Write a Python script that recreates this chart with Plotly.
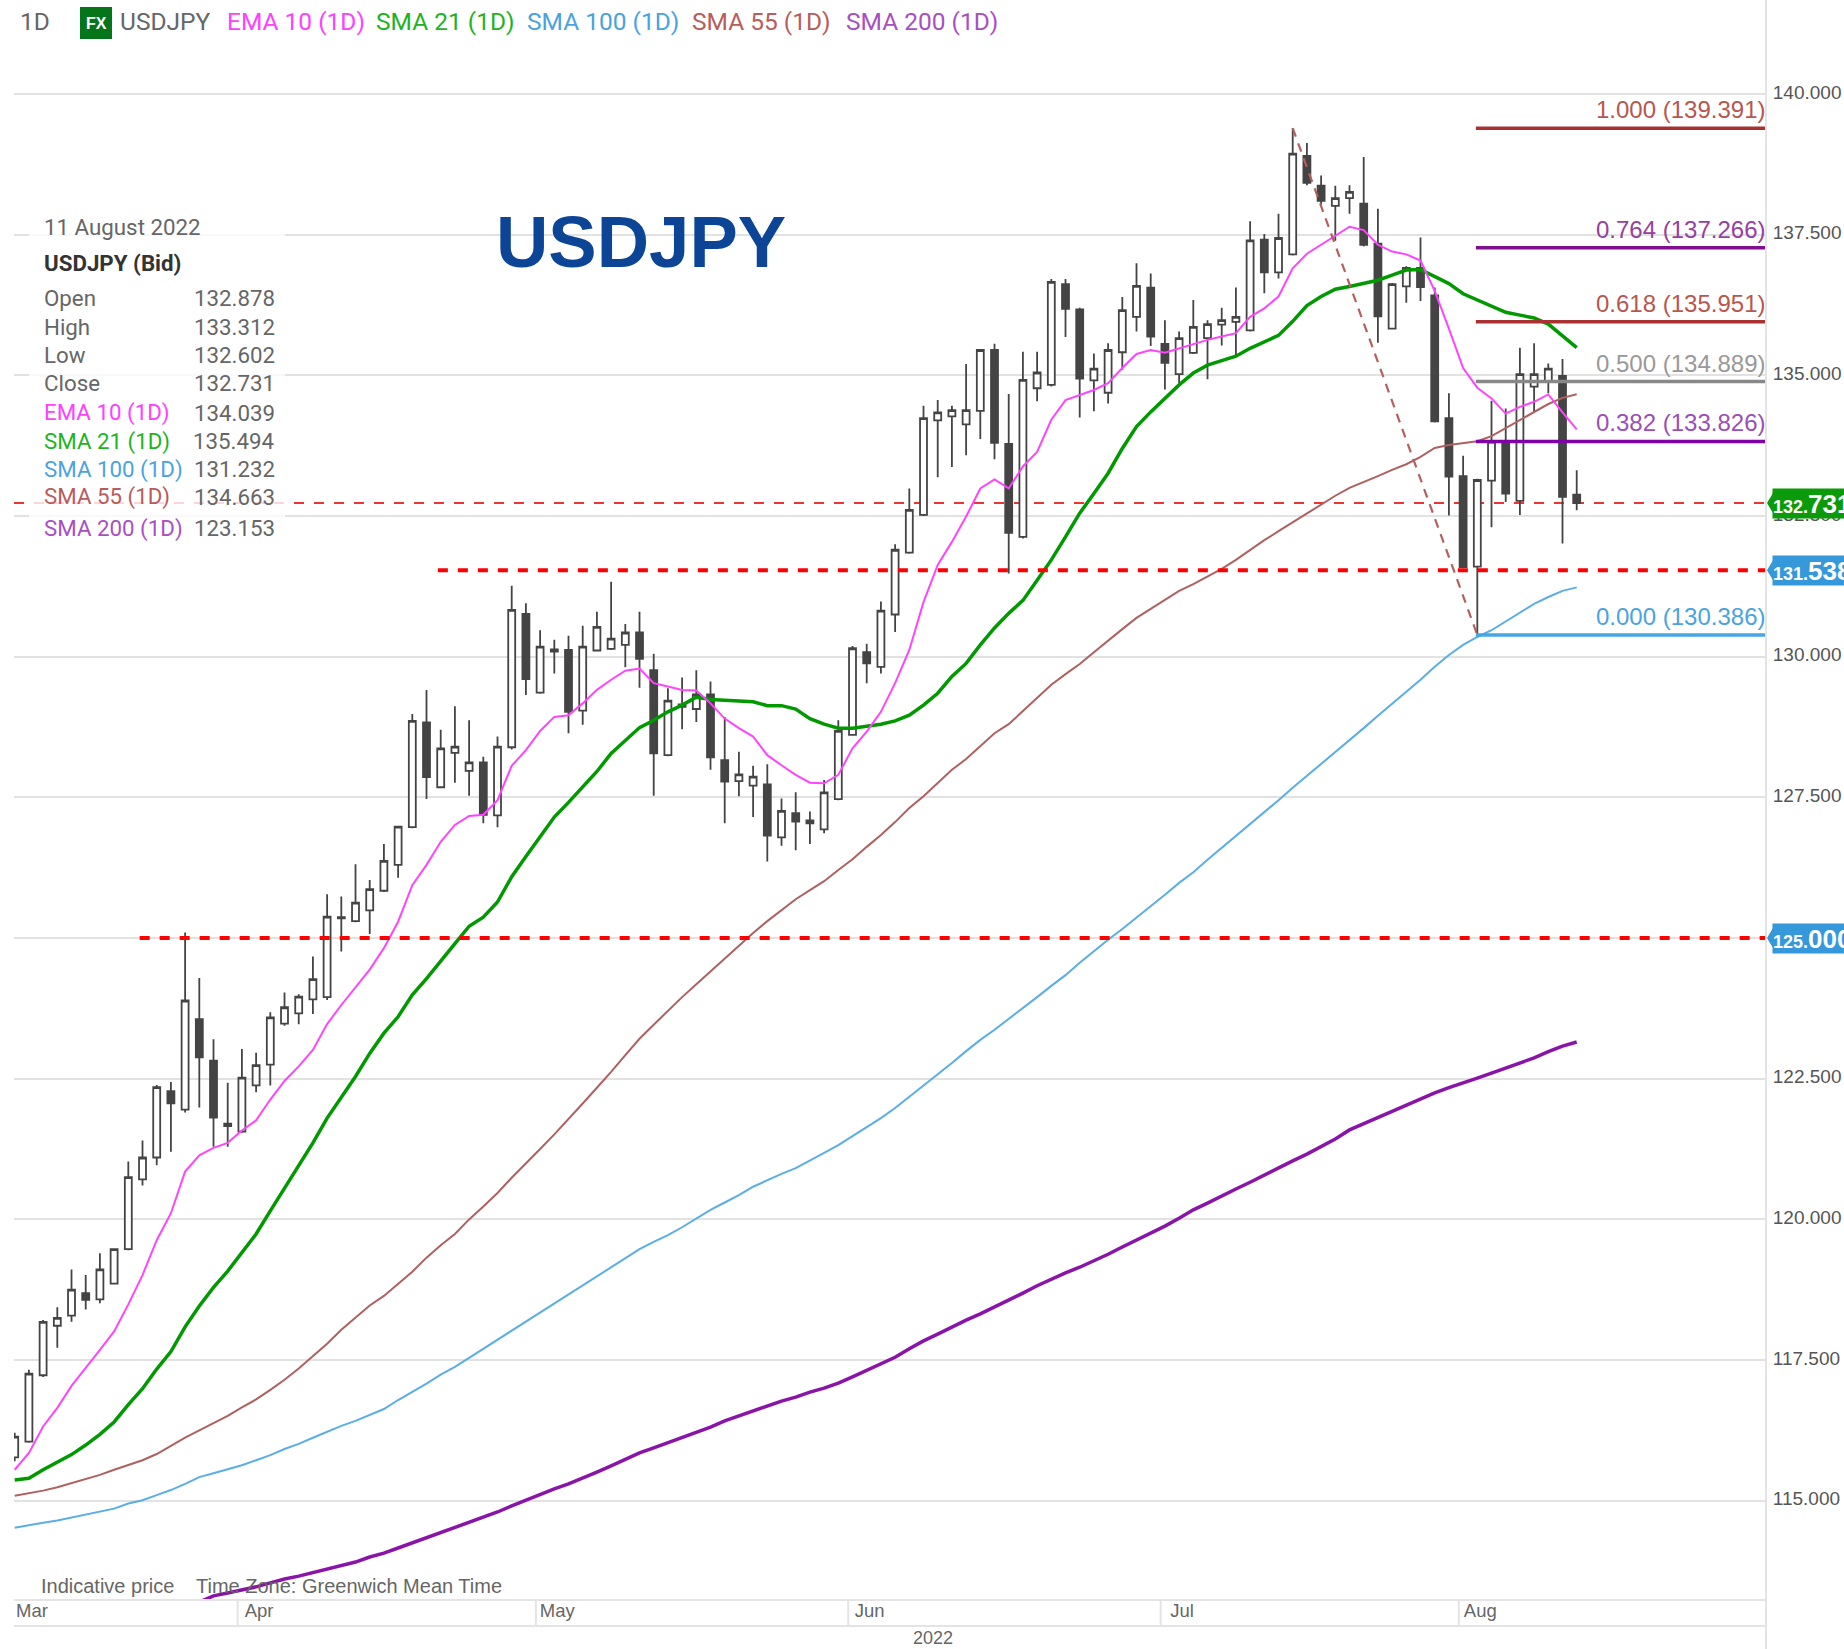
import pandas as pd
import plotly.graph_objects as go

dates = [d.strftime("%Y-%m-%d") for d in pd.bdate_range("2022-03-10", "2022-08-11")]

opens = [115.77,116.05,117.23,118.11,118.29,118.69,118.58,118.86,119.47,120.71,121.10,122.28,121.95,123.56,122.82,121.70,121.56,122.38,122.75,123.48,123.66,123.91,123.95,125.37,125.30,125.49,125.84,126.30,126.97,128.83,127.68,128.29,127.97,128.12,127.18,128.39,130.76,129.36,130.09,130.12,129.04,130.11,130.14,130.21,130.43,129.76,128.25,129.15,129.07,129.33,128.16,127.79,127.71,127.73,126.79,127.22,127.09,126.93,127.47,128.61,130.08,129.82,130.75,131.85,132.52,134.20,134.27,134.13,134.37,135.45,133.78,132.13,134.77,134.83,136.62,136.17,134.91,134.69,135.41,136.04,136.56,135.56,135.02,135.40,135.66,135.90,135.95,135.80,137.41,136.83,137.15,138.90,138.37,138.01,138.15,138.05,137.34,135.83,136.58,136.91,136.42,134.24,133.21,131.60,133.13,133.82,132.77,134.80,134.90,134.99,132.878]
highs = [116.21,117.33,118.21,118.44,119.11,119.01,119.40,119.47,121.03,121.40,122.39,122.44,125.10,124.29,123.20,122.43,123.03,122.96,123.68,124.03,124.00,124.67,125.78,125.74,126.31,126.03,126.67,126.98,128.98,129.41,128.70,129.12,128.87,128.22,128.58,131.26,130.95,130.47,130.30,130.37,130.55,130.80,131.33,130.58,130.80,130.05,129.44,129.63,129.76,129.56,128.93,128.31,128.06,128.09,127.48,127.59,127.25,127.81,128.87,130.19,130.23,130.98,132.00,132.99,134.46,134.56,134.46,135.20,135.47,135.56,134.67,135.42,135.42,136.71,136.71,136.20,135.39,135.57,136.39,136.99,136.81,135.98,135.78,136.34,135.98,136.20,136.56,137.74,137.51,137.87,139.39,139.13,138.55,138.37,138.38,138.88,137.96,136.64,136.94,137.45,136.56,134.68,133.57,133.16,134.55,134.41,135.49,135.57,135.21,135.29,133.312]
lows = [115.70,116.03,117.20,117.72,118.18,118.40,118.51,118.85,119.45,120.60,120.96,121.20,121.90,121.99,121.29,121.29,121.54,122.26,122.38,123.44,123.47,123.65,123.90,124.76,125.28,125.07,125.82,126.07,126.95,127.47,127.66,127.76,127.53,127.04,126.97,128.35,129.32,129.34,129.70,128.64,128.79,130.09,130.12,129.81,129.45,127.53,128.23,128.71,128.84,127.99,127.04,127.52,127.15,126.36,126.64,126.56,126.67,126.86,127.45,128.60,129.53,129.70,130.44,131.83,132.50,133.19,133.37,133.58,133.87,133.51,131.48,132.10,134.54,134.80,135.68,134.25,134.36,134.50,135.10,135.78,135.52,134.75,134.86,135.38,134.93,135.53,135.36,135.78,136.46,136.72,137.13,138.38,138.03,137.39,137.87,137.29,135.58,135.82,136.29,136.32,134.16,132.51,131.57,130.39,132.30,132.75,132.52,134.35,134.68,132.01,132.602]
closes = [116.14,117.26,118.18,118.25,118.75,118.57,119.11,119.47,120.75,121.10,122.35,122.06,123.89,122.88,121.81,121.66,122.52,122.74,123.59,123.77,123.96,124.27,125.38,125.35,125.63,125.87,126.37,126.98,128.86,127.86,128.37,128.40,128.12,127.19,128.40,130.83,129.60,130.18,130.13,129.02,130.18,130.53,130.32,130.43,129.96,128.28,129.22,129.11,129.33,128.21,127.78,127.91,127.87,126.82,127.26,127.07,127.04,127.59,128.68,130.15,129.88,130.82,131.90,132.61,134.24,134.34,134.38,134.38,135.45,133.80,132.20,134.92,135.05,136.66,136.18,134.94,135.12,135.45,136.16,136.59,135.69,135.22,135.66,135.86,135.91,135.98,136.04,137.40,136.83,137.44,138.94,138.42,138.10,138.15,138.26,137.32,136.05,136.62,136.91,136.57,134.18,133.20,131.59,133.14,133.82,132.90,135.02,135.02,135.12,132.84,132.731]

ema_10 = [115.55,115.85,116.32,116.65,117.04,117.35,117.68,118.01,118.49,119.01,119.63,120.11,120.85,121.14,121.27,121.36,121.58,121.76,122.13,122.46,122.72,123.01,123.47,123.81,124.12,124.44,124.82,125.29,125.94,126.30,126.71,127.01,127.17,127.19,127.45,128.06,128.34,128.68,128.93,128.96,129.17,129.41,129.59,129.75,129.79,129.53,129.47,129.41,129.40,129.17,128.90,128.73,128.58,128.25,128.07,127.90,127.76,127.75,127.90,128.37,128.67,129.02,129.53,130.12,130.97,131.63,132.04,132.49,132.99,133.15,132.99,133.38,133.64,134.21,134.56,134.65,134.74,134.86,135.13,135.38,135.45,135.40,135.48,135.56,135.63,135.69,135.75,136.04,136.19,136.40,136.90,137.16,137.32,137.48,137.64,137.58,137.32,137.20,137.15,137.04,136.50,135.83,135.13,134.78,134.59,134.32,134.44,134.53,134.66,134.34,134.039]
sma_21 = [115.37,115.40,115.55,115.68,115.82,115.99,116.18,116.40,116.71,116.99,117.34,117.65,118.09,118.46,118.79,119.08,119.41,119.74,120.15,120.56,120.96,121.36,121.80,122.18,122.54,122.95,123.31,123.60,123.99,124.28,124.58,124.90,125.21,125.37,125.64,126.09,126.45,126.80,127.15,127.41,127.69,127.96,128.28,128.52,128.74,128.87,129.02,129.14,129.28,129.24,129.23,129.22,129.20,129.13,129.13,129.07,128.90,128.80,128.73,128.73,128.76,128.80,128.86,128.96,129.14,129.35,129.65,129.88,130.21,130.51,130.77,131.00,131.36,131.72,132.13,132.55,132.90,133.26,133.70,134.09,134.35,134.59,134.83,135.04,135.18,135.26,135.34,135.48,135.60,135.71,135.96,136.24,136.40,136.53,136.58,136.63,136.69,136.78,136.87,136.88,136.75,136.63,136.45,136.34,136.24,136.12,136.07,136.02,135.91,135.70,135.494]
sma_55 = [115.09,115.13,115.18,115.24,115.31,115.38,115.46,115.55,115.63,115.72,115.83,115.98,116.12,116.25,116.38,116.51,116.66,116.80,116.97,117.15,117.35,117.57,117.79,118.04,118.25,118.47,118.64,118.86,119.07,119.32,119.54,119.74,120.00,120.23,120.47,120.74,120.99,121.25,121.51,121.78,122.06,122.34,122.62,122.92,123.21,123.46,123.71,123.95,124.18,124.41,124.64,124.87,125.09,125.30,125.50,125.69,125.85,126.01,126.21,126.40,126.62,126.83,127.06,127.31,127.52,127.76,127.99,128.18,128.41,128.64,128.80,129.03,129.27,129.50,129.69,129.87,130.08,130.29,130.49,130.69,130.85,131.01,131.17,131.29,131.42,131.56,131.72,131.90,132.07,132.23,132.39,132.55,132.71,132.86,133.00,133.10,133.21,133.32,133.42,133.55,133.71,133.76,133.80,133.83,133.92,134.06,134.21,134.35,134.49,134.60,134.663]
sma_100 = [114.52,114.57,114.61,114.65,114.70,114.75,114.80,114.86,114.95,115.01,115.10,115.19,115.30,115.42,115.49,115.56,115.63,115.72,115.81,115.92,116.01,116.12,116.23,116.33,116.42,116.53,116.63,116.79,116.93,117.08,117.24,117.38,117.54,117.70,117.86,118.02,118.19,118.34,118.50,118.66,118.82,118.98,119.14,119.30,119.47,119.60,119.72,119.86,120.02,120.17,120.30,120.43,120.58,120.70,120.81,120.91,121.04,121.18,121.32,121.48,121.64,121.80,121.98,122.18,122.37,122.57,122.78,122.99,123.19,123.37,123.56,123.76,123.95,124.15,124.34,124.56,124.77,124.97,125.16,125.36,125.57,125.77,125.98,126.17,126.39,126.60,126.81,127.03,127.24,127.45,127.67,127.88,128.09,128.31,128.52,128.73,128.95,129.16,129.37,129.59,129.82,130.03,130.21,130.35,130.47,130.63,130.79,130.94,131.06,131.17,131.232]
sma_200 = [None]*13 + [113.20,113.31,113.36,113.41,113.47,113.54,113.61,113.66,113.72,113.79,113.84,113.91,114.00,114.07,114.16,114.25,114.34,114.43,114.52,114.62,114.71,114.80,114.91,115.01,115.12,115.21,115.30,115.40,115.51,115.62,115.74,115.85,115.94,116.03,116.12,116.22,116.31,116.42,116.51,116.60,116.68,116.77,116.84,116.93,117.00,117.09,117.20,117.32,117.43,117.55,117.70,117.84,117.96,118.09,118.21,118.32,118.44,118.57,118.69,118.82,118.94,119.05,119.15,119.26,119.38,119.51,119.63,119.76,119.88,120.02,120.17,120.29,120.42,120.54,120.66,120.79,120.91,121.04,121.16,121.29,121.43,121.59,121.70,121.82,121.93,122.03,122.14,122.25,122.34,122.42,122.51,122.60,122.69,122.78,122.87,122.98,123.08,123.153]

fib_ratios = ["1.000", "0.764", "0.618", "0.500", "0.382", "0.000"]
fib_levels = [139.391, 137.266, 135.951, 134.889, 133.826, 130.386]
fib_line_colors = ["#a83232", "#7f0f8f", "#a83232", "#888888", "#8000a8", "#45a5e5"]
fib_text_colors = ["#b8564f", "#96409f", "#b8564f", "#999999", "#9a4fb8", "#4aa3df"]
fib_start_date = "2022-08-02"
fib_swing_dates = ["2022-07-14", "2022-08-02"]
fib_swing_prices = [139.391, 130.386]

last_close = 132.731
support_level = 131.538
resistance_level = 125.000
support_start_bar = 29.8
resistance_start_bar = 8.8

month_labels = ["Mar", "Apr", "May", "Jun", "Jul", "Aug"]
month_label_dates = ["2022-03-11", "2022-04-04", "2022-05-03", "2022-06-02", "2022-07-04", "2022-08-02"]
month_start_dates = ["2022-04-01", "2022-05-02", "2022-06-01", "2022-07-01", "2022-08-01"]
price_ticks = [115, 117.5, 120, 122.5, 125, 127.5, 130, 132.5, 135, 137.5, 140]

panel_rows = [
    ("Open", "132.878", "#666666"), ("High", "133.312", "#666666"),
    ("Low", "132.602", "#666666"), ("Close", "132.731", "#666666"),
    ("EMA 10 (1D)", "134.039", "#ff40ff"), ("SMA 21 (1D)", "135.494", "#1fb31f"),
    ("SMA 100 (1D)", "131.232", "#4aa3df"), ("SMA 55 (1D)", "134.663", "#b85c5c"),
    ("SMA 200 (1D)", "123.153", "#a84fc4"),
]
legend_items = [("1D", 18, "#666666"), ("USDJPY", 118, "#666666"), ("EMA 10 (1D)", 225, "#ff40ff"),
                ("SMA 21 (1D)", 374, "#1fb31f"), ("SMA 100 (1D)", 525, "#4aa3df"),
                ("SMA 55 (1D)", 690, "#b85c5c"), ("SMA 200 (1D)", 844, "#a84fc4")]

W, H = 1844, 1649
L, R, T, B = 14, 78, 0, 49
PW, PH = W - L - R, H - T - B
X_RANGE = [-0.05, 123.33]
Y_RANGE = [113.236, 141.67]
SANS = "Liberation Sans"
UI = "Roboto"


def px(x):
    return (x - L) / PW


def py(y):
    return 1 - (y - T) / PH


fig = go.Figure()
fig.add_trace(go.Candlestick(
    x=dates, open=opens, high=highs, low=lows, close=closes, name="USDJPY", whiskerwidth=0,
    increasing=dict(line=dict(color="#444444", width=1.8), fillcolor="#ffffff"),
    decreasing=dict(line=dict(color="#444444", width=1.8), fillcolor="#444444"),
))
for name, vals, color, width in [
    ("SMA 200 (1D)", sma_200, "#8a14a8", 3.5), ("SMA 100 (1D)", sma_100, "#5aaee5", 2),
    ("SMA 55 (1D)", sma_55, "#b06060", 2), ("SMA 21 (1D)", sma_21, "#009900", 3.5),
    ("EMA 10 (1D)", ema_10, "#ff44ff", 2),
]:
    fig.add_trace(go.Scatter(x=dates, y=vals, mode="lines", name=name,
                             line=dict(color=color, width=width)))
fig.add_trace(go.Scatter(x=fib_swing_dates, y=fib_swing_prices, mode="lines", name="Fibonacci swing",
                         line=dict(color="#b56060", width=2.2, dash="9px,7px")))

shapes = [dict(type="line", xref="x domain", yref="y", x0=0, x1=1, y0=last_close, y1=last_close,
               layer="below", line=dict(color="#ee3333", width=1.8, dash="10px,10px"))]
start_idx = dates.index(fib_start_date) - 0.1
for lvl, col in zip(fib_levels, fib_line_colors):
    shapes.append(dict(type="line", xref="x", yref="y", x0=start_idx, x1=X_RANGE[1], y0=lvl, y1=lvl,
                       line=dict(color=col, width=3.5)))
for lvl, start in [(support_level, support_start_bar), (resistance_level, resistance_start_bar)]:
    shapes.append(dict(type="line", xref="x", yref="y", x0=start, x1=X_RANGE[1], y0=lvl, y1=lvl,
                       line=dict(color="#ff0000", width=4, dash="10px,10px")))
# info panel veil
shapes.append(dict(type="rect", xref="paper", yref="paper", x0=px(29), x1=px(285), y0=py(540), y1=py(205),
                   fillcolor="rgba(255,255,255,0.8)", line=dict(width=0)))
# axis furniture
frame = "#e4e4e4"
shapes += [
    dict(type="line", xref="paper", yref="paper", x0=1, x1=1, y0=py(H), y1=1, line=dict(color=frame, width=2)),
    dict(type="line", xref="paper", yref="paper", x0=0, x1=1, y0=0, y1=0, line=dict(color=frame, width=2)),
    dict(type="line", xref="paper", yref="paper", x0=0, x1=1, y0=py(1626), y1=py(1626), line=dict(color=frame, width=2)),
]
for d in month_start_dates:
    i = dates.index(d) - 0.3
    shapes.append(dict(type="line", xref="x", yref="paper", x0=i, x1=i, y0=py(1626), y1=0,
                       line=dict(color=frame, width=2)))
# price tag pointers
for lvl, col in [(last_close, "#0a9a0a"), (support_level, "#3498db"), (resistance_level, "#3498db")]:
    shapes.append(dict(type="path", xref="paper", yref="y", xsizemode="pixel", ysizemode="pixel",
                       xanchor=1, yanchor=lvl, path="M 1 0 L 7 -10 L 7 10 Z", fillcolor=col, line=dict(width=0)))
# FX icon
shapes.append(dict(type="rect", xref="paper", yref="paper", x0=px(80), x1=px(112), y0=py(39), y1=py(7),
                   fillcolor="#05751c", line=dict(width=0)))

ann = []


def text(s, x, y, size, color, anchor="left", family=UI, bold=False):
    ann.append(dict(text=f"<b>{s}</b>" if bold else s, xref="paper", yref="paper", x=px(x), y=py(y),
                    xanchor=anchor, yanchor="middle", showarrow=False,
                    font=dict(family=family, size=size, color=color)))


for s, x, c in legend_items:
    text(s, x, 21, 24.5, c)
text("FX", 96, 23, 16, "#ffffff", anchor="center", family=SANS, bold=True)
text("USDJPY", 494, 241, 72.5, "#0d4596", family=SANS, bold=True)
text("11 August 2022", 42, 227, 22.3, "#666666")
text("USDJPY (Bid)", 42, 263, 22.3, "#333333", bold=True)
row_y = [298, 327, 355, 383, 413, 441, 469, 497, 528]
for (lab, val, col), y in zip(panel_rows, row_y):
    text(lab, 42, y, 22.3, col)
    text(val, 277, y, 22.3, "#666666", anchor="right")
text("Indicative price", 39, 1586, 20, "#666666", family=SANS)
text("Time Zone: Greenwich Mean Time", 194, 1586, 20, "#666666", family=SANS)
text("2022", 933, 1638, 18, "#666666", anchor="center", family=SANS)

for ratio, lvl, col in zip(fib_ratios, fib_levels, fib_text_colors):
    ann.append(dict(text=f"{ratio} ({lvl:.3f})", xref="paper", yref="y", x=1, y=lvl, xanchor="right",
                    xshift=1, yanchor="bottom", yshift=3, showarrow=False,
                    font=dict(family=SANS, size=24, color=col)))
for lvl, col in [(last_close, "#0a9a0a"), (support_level, "#3498db"), (resistance_level, "#3498db")]:
    s = f"{lvl:.3f}"
    head, tail = s[:4], s[4:]
    ann.append(dict(text=f'<b>{head}<span style="font-size:26px">{tail}</span></b>', xref="paper", yref="y",
                    x=px(1772), y=lvl, xanchor="left", yanchor="middle", showarrow=False, align="left",
                    width=88, height=29, bgcolor=col, borderpad=0,
                    font=dict(family=SANS, size=18, color="#ffffff")))

fig.update_layout(
    width=W, height=H, autosize=False, margin=dict(l=L, r=R, t=T, b=B, pad=0),
    paper_bgcolor="#ffffff", plot_bgcolor="#ffffff", showlegend=False, hovermode=False,
    shapes=shapes, annotations=ann,
    xaxis=dict(type="category", categoryorder="array", categoryarray=dates, range=X_RANGE,
               rangeslider=dict(visible=False), showgrid=False, zeroline=False,
               tickmode="array", tickvals=month_label_dates, ticktext=month_labels, ticks="",
               ticklabelstandoff=-3, ticklabelshift=3, tickfont=dict(family=SANS, size=18.5, color="#666666")),
    yaxis=dict(side="right", range=Y_RANGE, tickmode="array", tickvals=price_ticks, tickformat=".3f",
               showgrid=True, gridcolor="#e2e2e2", gridwidth=2, zeroline=False, ticks="outside",
               ticklen=2, tickcolor="#ffffff", ticklabelshift=-2, tickfont=dict(family=SANS, size=19, color="#555555")),
)
fig.write_html("out.html", config={"displayModeBar": False},
               post_script="document.body.style.margin='0';document.documentElement.style.overflow='hidden';")
